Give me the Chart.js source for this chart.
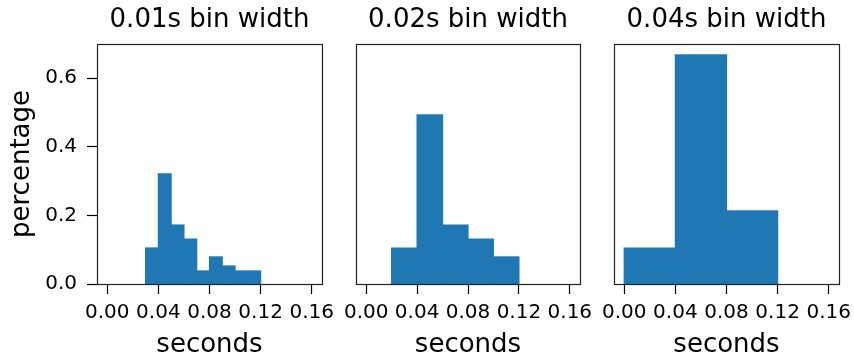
<!DOCTYPE html>
<html>
<head>
<meta charset="utf-8">
<script src="https://cdn.jsdelivr.net/npm/chart.js@4/dist/chart.umd.min.js"></script>
<style>
  html, body { margin: 0; padding: 0; background: #fff; overflow: hidden; }
  #wrap { position: relative; width: 854px; height: 361px; overflow: hidden; }
  #wrap canvas { position: absolute; left: 0; top: 0; }
</style>
</head>
<body>
<div id="wrap">
  <canvas id="c1" width="880" height="361"></canvas>
  <canvas id="c2" width="880" height="361"></canvas>
  <canvas id="c3" width="880" height="361"></canvas>
</div>
<script>
'use strict';

// histogram bin edges (seconds) and share of samples per bin
var edges01 = [0.03, 0.04, 0.05, 0.06, 0.07, 0.08, 0.09, 0.10, 0.11, 0.12];
var pct01 = [0.105, 0.321, 0.172, 0.131, 0.038, 0.079, 0.0525, 0.038, 0.038];

var edges02 = [0.02, 0.04, 0.06, 0.08, 0.10, 0.12];
var pct02 = [0.105, 0.493, 0.172, 0.131, 0.079];

var edges04 = [0.00, 0.04, 0.08, 0.12];
var pct04 = [0.105, 0.668, 0.213];

var titles = ['0.01s bin width', '0.02s bin width', '0.04s bin width'];
var xTicks = [0.00, 0.04, 0.08, 0.12, 0.16];
var xTickLabels = ['0.00', '0.04', '0.08', '0.12', '0.16'];
var yTicks = [0.0, 0.2, 0.4, 0.6];
var yTickLabels = ['0.0', '0.2', '0.4', '0.6'];

var barColor = '#1f77b4';
var fontFamily = '"DejaVu Sans", sans-serif';
var canvasW = 880;

// box drawn round the plot area, like matplotlib spines
var framePlugin = {
  id: 'frame',
  afterDraw: function (chart) {
    var a = chart.chartArea;
    var ctx = chart.ctx;
    ctx.save();
    ctx.strokeStyle = '#222';
    ctx.lineWidth = 1.2;
    ctx.strokeRect(Math.round(a.left) + 0.5, Math.round(a.top) + 0.5,
      Math.round(a.right - a.left), Math.round(a.bottom - a.top));
    ctx.restore();
  }
};

function toPoints(edges, values) {
  var pts = [];
  values.forEach(function (v, i) {
    pts.push({ x: (edges[i] + edges[i + 1]) / 2, y: v });
  });
  return pts;
}

function makePanel(id, title, edges, values, left, right, showY) {
  var ctx = document.getElementById(id);
  return new Chart(ctx, {
    type: 'bar',
    data: {
      datasets: [{
        data: toPoints(edges, values),
        backgroundColor: barColor,
        borderWidth: 0,
        inflateAmount: 0.6,
        barPercentage: 1,
        categoryPercentage: 1
      }]
    },
    options: {
      responsive: false,
      animation: false,
      events: [],
      layout: {
        padding: { left: showY ? 0 : left, right: canvasW - right, top: 0, bottom: 0 }
      },
      plugins: {
        legend: { display: false },
        tooltip: { enabled: false },
        title: {
          display: true,
          text: title,
          fullSize: false,
          color: '#000',
          font: { family: fontFamily, size: 26, weight: 'normal', lineHeight: 1.2 },
          padding: { top: 4.4, bottom: 8.4 }
        }
      },
      scales: {
        x: {
          type: 'linear',
          min: -0.008,
          max: 0.168,
          offset: false,
          afterBuildTicks: function (scale) {
            scale.ticks = xTicks.map(function (v) { return { value: v }; });
          },
          afterFit: function (scale) { scale.height = 77; },
          grid: {
            offset: false,
            drawOnChartArea: false,
            drawTicks: true,
            tickLength: 10,
            tickWidth: 1.2,
            tickColor: '#000'
          },
          border: { display: false },
          ticks: {
            padding: 7,
            color: '#000',
            maxRotation: 0,
            autoSkip: false,
            font: { family: fontFamily, size: 20 },
            callback: function (v) {
              var i = xTicks.indexOf(v);
              return i >= 0 ? xTickLabels[i] : '';
            }
          },
          title: {
            display: true,
            text: 'seconds',
            color: '#000',
            font: { family: fontFamily, size: 26, lineHeight: 1.2 },
            padding: { top: 0, bottom: 0 }
          }
        },
        y: {
          display: showY,
          min: 0,
          max: 0.7,
          afterBuildTicks: function (scale) {
            scale.ticks = yTicks.map(function (v) { return { value: v }; });
          },
          afterFit: function (scale) { scale.width = showY ? left : 0; },
          grid: {
            drawOnChartArea: false,
            drawTicks: true,
            tickLength: 10,
            tickWidth: 1.2,
            tickColor: '#000'
          },
          border: { display: false },
          ticks: {
            padding: 10,
            color: '#000',
            font: { family: fontFamily, size: 20 },
            callback: function (v) {
              var i = yTicks.indexOf(v);
              return i >= 0 ? yTickLabels[i] : '';
            }
          },
          title: {
            display: showY,
            text: 'percentage',
            color: '#000',
            font: { family: fontFamily, size: 26, lineHeight: 1.2 },
            padding: { top: 7, bottom: 0 }
          }
        }
      }
    },
    plugins: [framePlugin]
  });
}

makePanel('c1', titles[0], edges01, pct01, 97, 322, true);
makePanel('c2', titles[1], edges02, pct02, 356, 580, false);
makePanel('c3', titles[2], edges04, pct04, 614, 839, false);
</script>
</body>
</html>
